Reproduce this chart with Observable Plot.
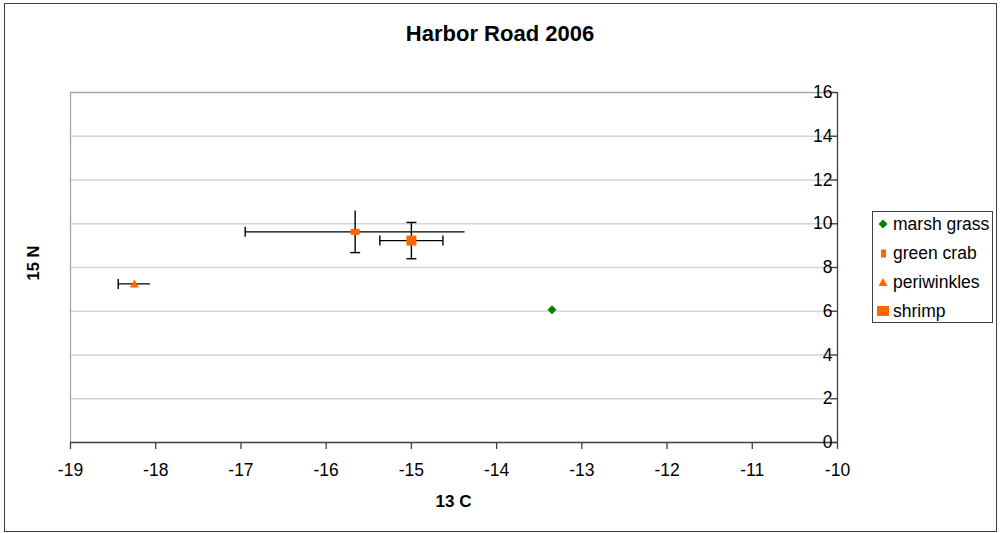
<!DOCTYPE html>
<html><head><meta charset="utf-8">
<script src="https://cdn.jsdelivr.net/npm/d3@7"></script>
<script src="https://cdn.jsdelivr.net/npm/@observablehq/plot@0.6"></script>
<style>
body{margin:0;background:#fff;font-family:"Liberation Sans",Arial,sans-serif;}
#wrap{position:relative;width:1000px;height:533px;overflow:hidden;}
#frame{position:absolute;left:4px;top:3px;width:993px;height:529px;border:1.5px solid #404040;box-sizing:border-box;pointer-events:none;}
#title{position:absolute;left:0;width:1000px;top:21px;text-align:center;font-weight:bold;font-size:22px;color:#000;}
#xlab{position:absolute;left:70px;width:767px;top:492px;text-align:center;font-weight:bold;font-size:17px;}
#ylab{position:absolute;left:33px;top:263px;transform:translate(-50%,-50%) rotate(-90deg);font-weight:bold;font-size:16.5px;white-space:nowrap;}
#legend{position:absolute;left:872px;top:211px;width:121px;height:112px;border:1px solid #404040;box-sizing:border-box;background:#fff;}
.row{position:absolute;left:0;height:29px;line-height:29px;font-size:17.5px;white-space:nowrap;}
.row svg{position:absolute;left:4px;top:8px;}
.row span{position:absolute;left:20px;}
#chart{position:absolute;left:0;top:0;}
</style></head>
<body><div id="wrap"><div id="chart"></div><div id="frame"></div>
<div id="title">Harbor Road 2006</div>
<div id="xlab">13 C</div>
<div id="ylab">15 N</div>
<div id="legend"></div>
</div>
<script>
// Data
const species = ["marsh grass", "green crab", "periwinkles", "shrimp"];
const d13C = [-13.35, -15.66, -18.25, -15.00];
const d15N = [6.07, 9.63, 7.25, 9.23];
const errC = [0, 1.29, 0.19, 0.37];
const errN = [0, 0.95, 0, 0.83];
const xTicks = [-19, -18, -17, -16, -15, -14, -13, -12, -11, -10];
const yTicks = [0, 2, 4, 6, 8, 10, 12, 14, 16];

// styles
const colors = ["#008000", "#FF6600", "#FF6600", "#FF6600"];
const diamond = {draw(c){c.moveTo(0,-4.5);c.lineTo(4.5,0);c.lineTo(0,4.5);c.lineTo(-4.5,0);c.closePath();}};
const smallRect = {draw(c){c.rect(-4.5,-3,9,6);}};
const tri = {draw(c){c.moveTo(0,-4.5);c.lineTo(4.5,3.5);c.lineTo(-4.5,3.5);c.closePath();}};
const square = {draw(c){c.rect(-5,-5,10,10);}};
const symbols = [diamond, smallRect, tri, square];
const hCap = {draw(c){c.moveTo(-5,0);c.lineTo(5,0);}};
const vCap = {draw(c){c.moveTo(0,-5);c.lineTo(0,5);}};
const noCap = new Set(["1-right", "1-top", "2-right"]);

const idx = species.map((_, i) => i);
const xe = idx.filter(i => errC[i] > 0);
const ye = idx.filter(i => errN[i] > 0);
const capsX = [];
xe.forEach(i => { ["left","right"].forEach(s => { if (!noCap.has(i+"-"+s)) capsX.push({i, s}); }); });
const capsY = [];
ye.forEach(i => { ["top","bottom"].forEach(s => { if (!noCap.has(i+"-"+s)) capsY.push({i, s}); }); });

const chart = Plot.plot({
  width: 1000, height: 533,
  marginLeft: 70, marginRight: 163, marginTop: 92, marginBottom: 91,
  x: {domain: [-19, -10], axis: null},
  y: {domain: [0, 16], axis: null},
  style: {fontFamily: '"Liberation Sans", Arial, sans-serif', background: "transparent", overflow: "visible"},
  marks: [
    Plot.ruleY(yTicks.filter(d => d > 0 && d < 16), {y: d => d, x1: -19, x2: -10, stroke: "#d4d4d4", strokeWidth: 1.3}),
    Plot.ruleY([16], {x1: -19, x2: -10, stroke: "#a6a6a6", strokeWidth: 1.3}),
    Plot.ruleX([-19], {y1: 0, y2: 16, stroke: "#a6a6a6", strokeWidth: 1.3}),
    Plot.ruleY([0], {x1: -19, x2: -10, stroke: "#404040", strokeWidth: 1.3}),
    Plot.ruleX([-10], {y1: 0, y2: 16, stroke: "#404040", strokeWidth: 1.3}),
    Plot.ruleY(yTicks, {y: d => d, x1: -10.08, x2: -10, stroke: "#404040", strokeWidth: 1.3}),
    Plot.text(yTicks, {x: -10, y: d => d, text: d => String(d), textAnchor: "end", dx: -5, fontSize: 17.5, fill: "#000"}),
    Plot.axisX({ticks: xTicks, tickSize: 7, tickPadding: 14, fontSize: 17.5, tickFormat: d => String(d), label: null, stroke: "#404040", fill: "#000", strokeWidth: 1.3}),
    // error bars
    Plot.ruleY(xe, {y: i => d15N[i], x1: i => d13C[i] - errC[i], x2: i => d13C[i] + errC[i], stroke: "#000", strokeWidth: 1.4}),
    Plot.ruleX(ye, {x: i => d13C[i], y1: i => d15N[i] - errN[i], y2: i => d15N[i] + errN[i], stroke: "#000", strokeWidth: 1.4}),
    Plot.dot(capsX, {x: d => d.s === "left" ? d13C[d.i] - errC[d.i] : d13C[d.i] + errC[d.i], y: d => d15N[d.i], symbol: vCap, r: 5, stroke: "#000", strokeWidth: 1.4, fill: "none"}),
    Plot.dot(capsY, {x: d => d13C[d.i], y: d => d.s === "bottom" ? d15N[d.i] - errN[d.i] : d15N[d.i] + errN[d.i], symbol: hCap, r: 5, stroke: "#000", strokeWidth: 1.4, fill: "none"}),
    // markers
    ...idx.map(i => Plot.dot([i], {x: j => d13C[j], y: j => d15N[j], symbol: symbols[i], r: 5, fill: colors[i], stroke: "none"}))
  ]
});
document.getElementById("chart").appendChild(chart);

// legend
const leg = document.getElementById("legend");
const legendTop = [-2, 27, 56, 85];
const legendSvg = [
  '<polygon points="6,1.5 10.5,6 6,10.5 1.5,6" fill="#008000"/>',
  '<rect x="4" y="2.5" width="5" height="8" fill="#FF6600"/>',
  '<polygon points="6,2 10.5,10 1.5,10" fill="#FF6600"/>',
  '<rect x="0" y="1" width="12" height="10" fill="#FF6600"/>'
];
species.forEach((s, i) => {
  const row = document.createElement("div");
  row.className = "row";
  row.style.top = legendTop[i] + "px";
  row.innerHTML = '<svg width="12" height="12">' + legendSvg[i] + '</svg><span>' + s + '</span>';
  leg.appendChild(row);
});
</script>
</body></html>
